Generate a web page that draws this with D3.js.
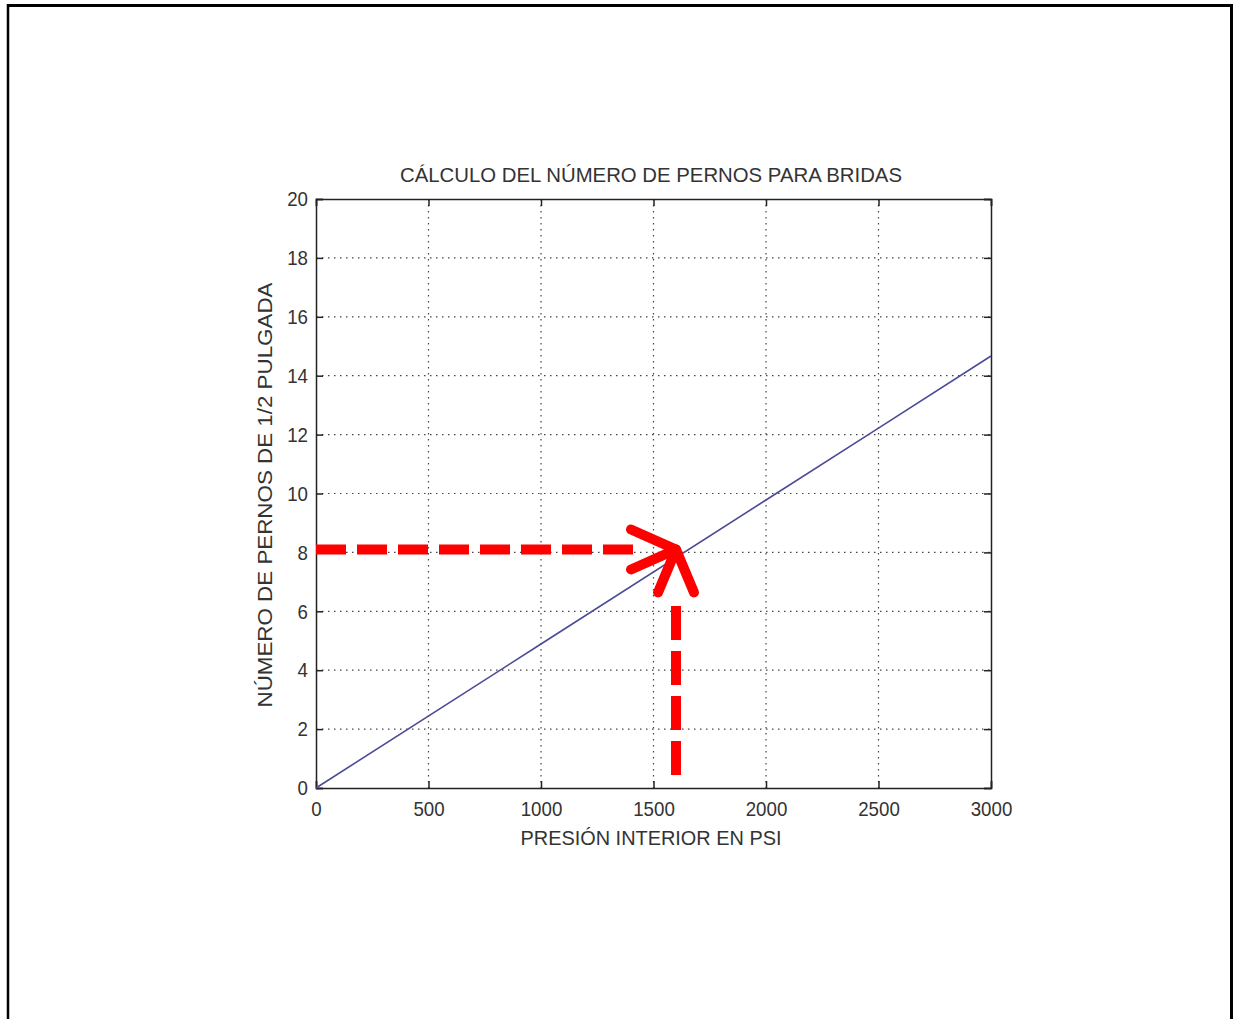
<!DOCTYPE html>
<html lang="es">
<head>
<meta charset="utf-8">
<script src="https://d3js.org/d3.v7.min.js"></script>
<style>
  body { margin: 0; background: #fff; }
  svg { display: block; }
  text { font-family: "Liberation Sans", Arial, sans-serif; fill: #333; }
</style>
</head>
<body>
<script>
// data
const pressure = [0, 1000, 2000, 2500, 3000];
const bolts = [0, 4.89, 9.78, 12.22, 14.67];
const xTicks = [0, 500, 1000, 1500, 2000, 2500, 3000];
const yTicks = [0, 2, 4, 6, 8, 10, 12, 14, 16, 18, 20];
// point marked by the red arrows
const markX = 1600;
const markY = 8.1;

const W = 1233, H = 1019;
const plotL = 316, plotR = 991, plotT = 199, plotB = 788;

const svg = d3.select("body").append("svg").attr("width", W).attr("height", H);

// outer frame of the page
svg.append("line").attr("x1", 7).attr("x2", 1233).attr("y1", 5.5).attr("y2", 5.5)
  .attr("stroke", "#000").attr("stroke-width", 3);
svg.append("line").attr("x1", 8).attr("x2", 8).attr("y1", 4).attr("y2", H)
  .attr("stroke", "#000").attr("stroke-width", 2.5);
svg.append("line").attr("x1", 1231.5).attr("x2", 1231.5).attr("y1", 4).attr("y2", H)
  .attr("stroke", "#000").attr("stroke-width", 3);

const x = d3.scaleLinear().domain([0, 3000]).range([plotL, plotR]);
const y = d3.scaleLinear().domain([0, 20]).range([plotB, plotT]);

// dotted grid
svg.append("g").selectAll("line").data(xTicks.slice(1, -1)).join("line")
  .attr("x1", d => x(d)).attr("x2", d => x(d)).attr("y1", plotT).attr("y2", plotB)
  .attr("stroke", "#444").attr("stroke-width", 1.2).attr("stroke-dasharray", "1.5,4.5");
svg.append("g").selectAll("line").data(yTicks.slice(1, -1)).join("line")
  .attr("x1", plotL).attr("x2", plotR).attr("y1", d => y(d)).attr("y2", d => y(d))
  .attr("stroke", "#444").attr("stroke-width", 1.2).attr("stroke-dasharray", "1.5,4.5");

// axes with inward ticks, box on
const tk = 7;
const fmt = d3.format("d");
const bx = svg.append("g").attr("transform", `translate(0,${plotB})`)
  .call(d3.axisBottom(x).tickValues(xTicks).tickFormat(fmt).tickSize(-tk).tickPadding(13));
const tx = svg.append("g").attr("transform", `translate(0,${plotT})`)
  .call(d3.axisTop(x).tickValues(xTicks).tickSize(-tk).tickFormat(""));
const ly = svg.append("g").attr("transform", `translate(${plotL},0)`)
  .call(d3.axisLeft(y).tickValues(yTicks).tickFormat(fmt).tickSize(-tk).tickPadding(8));
const ry = svg.append("g").attr("transform", `translate(${plotR},0)`)
  .call(d3.axisRight(y).tickValues(yTicks).tickSize(-tk).tickFormat(""));
[bx, tx, ly, ry].forEach(g => {
  g.select(".domain").attr("stroke", "#222").attr("stroke-width", 1.5);
  g.selectAll(".tick line").attr("stroke", "#222").attr("stroke-width", 1.5);
  g.selectAll(".tick text").style("font-size", "21px").attr("fill", "#333")
    .style("font-family", "'Liberation Sans', Arial, sans-serif");
});
// narrow digits like the original
[bx, ly].forEach(g => {
  g.selectAll(".tick").each(function(d) {
    d3.select(this).select("text")
      .attr("textLength", String(d).length * 10.4).attr("lengthAdjust", "spacingAndGlyphs");
  });
});

// the curve
svg.append("path").datum(pressure.map((p, i) => [p, bolts[i]]))
  .attr("fill", "none").attr("stroke", "#4b4b96").attr("stroke-width", 1.6)
  .attr("d", d3.line().x(d => x(d[0])).y(d => y(d[1])));

// red arrows
const px = x(markX), py = y(markY);
svg.append("line").attr("x1", x(0)).attr("x2", px - 42).attr("y1", py).attr("y2", py)
  .attr("stroke", "#ff0000").attr("stroke-width", 10).attr("stroke-dasharray", "30,11");
svg.append("polyline").attr("points", `${px - 45},${py - 20} ${px},${py} ${px - 45},${py + 20}`)
  .attr("fill", "none").attr("stroke", "#ff0000").attr("stroke-width", 10)
  .attr("stroke-linecap", "round").attr("stroke-linejoin", "round");
svg.append("line").attr("x1", px).attr("x2", px).attr("y1", y(0.44)).attr("y2", py + 48)
  .attr("stroke", "#ff0000").attr("stroke-width", 10).attr("stroke-dasharray", "34,11");
svg.append("polyline").attr("points", `${px - 18},${py + 43} ${px},${py} ${px + 18},${py + 43}`)
  .attr("fill", "none").attr("stroke", "#ff0000").attr("stroke-width", 10)
  .attr("stroke-linecap", "round").attr("stroke-linejoin", "round");

// titles
svg.append("text").attr("x", 651).attr("y", 182).attr("text-anchor", "middle")
  .style("font-size", "21px").attr("textLength", 502).attr("lengthAdjust", "spacingAndGlyphs")
  .text("CÁLCULO DEL NÚMERO DE PERNOS PARA BRIDAS");
svg.append("text").attr("x", 651).attr("y", 845).attr("text-anchor", "middle")
  .style("font-size", "21px").attr("textLength", 261).attr("lengthAdjust", "spacingAndGlyphs")
  .text("PRESIÓN INTERIOR EN PSI");
svg.append("text").attr("transform", "translate(272,495) rotate(-90)").attr("text-anchor", "middle")
  .style("font-size", "21px").attr("textLength", 425).attr("lengthAdjust", "spacingAndGlyphs")
  .text("NÚMERO DE PERNOS DE 1/2 PULGADA");
</script>
</body>
</html>
